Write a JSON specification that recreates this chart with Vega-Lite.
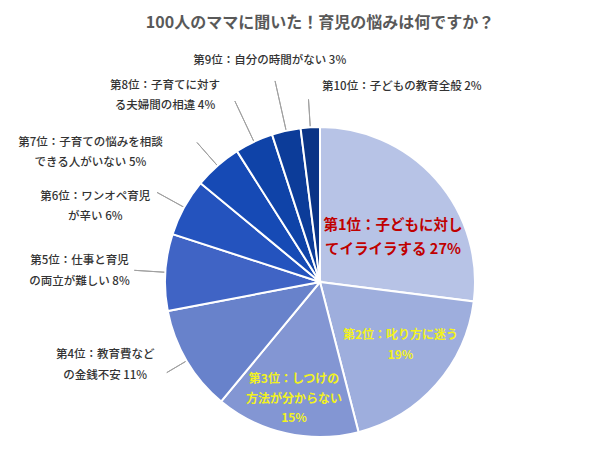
{
  "$schema": "https://vega.github.io/schema/vega-lite/v6.json",
  "width": 560,
  "height": 362,
  "autosize": {"type": "none"},
  "padding": {"left": 40, "top": 101, "right": 0, "bottom": 0},
  "background": "white",
  "title": {"text": "100人のママに聞いた！育児の悩みは何ですか？", "font": "Noto Sans CJK JP", "fontSize": 16, "fontWeight": "bold", "color": "#595959", "anchor": "middle", "offset": -30},
  "config": {"view": {"stroke": null}, "text": {"font": "Noto Sans CJK JP", "align": "center", "baseline": "middle", "lineBreak": "\n"}},
  "data": {"values": [
    {"rank": 1, "v": 27, "label": "第1位：子どもに対し\nてイライラする 27%"},
    {"rank": 2, "v": 19, "label": "第2位：叱り方に迷う\n19%"},
    {"rank": 3, "v": 15, "label": "第3位：しつけの\n方法が分からない\n15%"},
    {"rank": 4, "v": 11, "label": "第4位：教育費など\nの金銭不安 11%"},
    {"rank": 5, "v": 8, "label": "第5位：仕事と育児\nの両立が難しい 8%"},
    {"rank": 6, "v": 6, "label": "第6位：ワンオペ育児\nが辛い 6%"},
    {"rank": 7, "v": 5, "label": "第7位：子育ての悩みを相談\nできる人がいない 5%"},
    {"rank": 8, "v": 4, "label": "第8位：子育てに対す\nる夫婦間の相違 4%"},
    {"rank": 9, "v": 3, "label": "第9位：自分の時間がない 3%"},
    {"rank": 10, "v": 2, "label": "第10位：子どもの教育全般 2%"}
  ]},
  "encoding": {
    "theta": {"field": "v", "type": "quantitative", "stack": true},
    "order": {"field": "rank", "type": "quantitative"}
  },
  "layer": [
    {"mark": {"type": "arc", "innerRadius": 150, "outerRadius": 178, "padAngle": 3, "fill": "transparent", "strokeWidth": 1}, "encoding": {"stroke": {"condition": {"test": "datum.rank === 4", "value": "#A0A0A0"}, "value": "transparent"}}},
    {"mark": {"type": "arc", "innerRadius": 150, "outerRadius": 186, "padAngle": 3, "fill": "transparent", "strokeWidth": 1}, "encoding": {"stroke": {"condition": {"test": "datum.rank === 5", "value": "#A0A0A0"}, "value": "transparent"}}},
    {"mark": {"type": "arc", "innerRadius": 150, "outerRadius": 186, "padAngle": 3, "fill": "transparent", "strokeWidth": 1}, "encoding": {"stroke": {"condition": {"test": "datum.rank === 6", "value": "#A0A0A0"}, "value": "transparent"}}},
    {"mark": {"type": "arc", "innerRadius": 150, "outerRadius": 186, "padAngle": 3, "fill": "transparent", "strokeWidth": 1}, "encoding": {"stroke": {"condition": {"test": "datum.rank === 7", "value": "#A0A0A0"}, "value": "transparent"}}},
    {"mark": {"type": "arc", "innerRadius": 150, "outerRadius": 200, "padAngle": 3, "fill": "transparent", "strokeWidth": 1}, "encoding": {"stroke": {"condition": {"test": "datum.rank === 8", "value": "#A0A0A0"}, "value": "transparent"}}},
    {"mark": {"type": "arc", "innerRadius": 150, "outerRadius": 206, "padAngle": 3, "fill": "transparent", "strokeWidth": 1}, "encoding": {"stroke": {"condition": {"test": "datum.rank === 9", "value": "#A0A0A0"}, "value": "transparent"}}},
    {"mark": {"type": "arc", "innerRadius": 150, "outerRadius": 183, "padAngle": 3, "fill": "transparent", "strokeWidth": 1}, "encoding": {"stroke": {"condition": {"test": "datum.rank === 10", "value": "#A0A0A0"}, "value": "transparent"}}},
    {"mark": {"type": "arc", "outerRadius": 155, "stroke": "white", "strokeWidth": 2},
     "encoding": {"color": {"field": "rank", "type": "ordinal", "legend": null,
       "scale": {"domain": [1,2,3,4,5,6,7,8,9,10], "range": ["#B7C3E6","#9EAEDD","#8396D3","#6882CB","#4064C5","#2453BE","#164AB5","#0F43A8","#0C3C99","#0A3486"]}}}},
    {"mark": {"type": "text", "radius": 84, "dx": 10, "dy": 0, "fontSize": 14.5, "fontWeight": "bold", "color": "#C00000", "lineHeight": 24},
     "encoding": {"text": {"condition": {"test": "datum.rank === 1", "field": "label"}, "value": ""}}},
    {"mark": {"type": "text", "radius": 102, "dx": 4, "dy": -14, "fontSize": 12, "fontWeight": "bold", "color": "#F2F21E", "lineHeight": 20},
     "encoding": {"text": {"condition": {"test": "datum.rank === 2", "field": "label"}, "value": ""}}},
    {"mark": {"type": "text", "radius": 119, "dx": 0, "dy": -19, "fontSize": 12, "fontWeight": "bold", "color": "#F2F21E", "lineHeight": 19.5},
     "encoding": {"text": {"condition": {"test": "datum.rank === 3", "field": "label"}, "value": ""}}},
    {"mark": {"type": "text", "radius": 231, "dx": -16, "dy": -44.5, "fontSize": 11.5, "fontWeight": 500, "color": "#333333", "lineHeight": 21},
     "encoding": {"text": {"condition": {"test": "datum.rank === 4", "field": "label"}, "value": ""}}},
    {"mark": {"type": "text", "radius": 241, "dx": 0, "dy": -5.5, "fontSize": 11.5, "fontWeight": 500, "color": "#333333", "lineHeight": 21},
     "encoding": {"text": {"condition": {"test": "datum.rank === 5", "field": "label"}, "value": ""}}},
    {"mark": {"type": "text", "radius": 237, "dx": -17, "dy": 29, "fontSize": 11.5, "fontWeight": 500, "color": "#333333", "lineHeight": 20},
     "encoding": {"text": {"condition": {"test": "datum.rank === 6", "field": "label"}, "value": ""}}},
    {"mark": {"type": "text", "radius": 264, "dx": -55, "dy": 59, "fontSize": 11.5, "fontWeight": 500, "color": "#333333", "lineHeight": 20},
     "encoding": {"text": {"condition": {"test": "datum.rank === 7", "field": "label"}, "value": ""}}},
    {"mark": {"type": "text", "radius": 242, "dx": -52, "dy": 23, "fontSize": 11.5, "fontWeight": 500, "color": "#333333", "lineHeight": 20},
     "encoding": {"text": {"condition": {"test": "datum.rank === 8", "field": "label"}, "value": ""}}},
    {"mark": {"type": "text", "radius": 226, "dx": -1, "dy": 0, "fontSize": 11.5, "fontWeight": 500, "color": "#333333"},
     "encoding": {"text": {"condition": {"test": "datum.rank === 9", "field": "label"}, "value": ""}}},
    {"mark": {"type": "text", "radius": 210, "dx": 95, "dy": 15, "fontSize": 11.5, "fontWeight": 500, "color": "#333333"},
     "encoding": {"text": {"condition": {"test": "datum.rank === 10", "field": "label"}, "value": ""}}}
  ]
}
